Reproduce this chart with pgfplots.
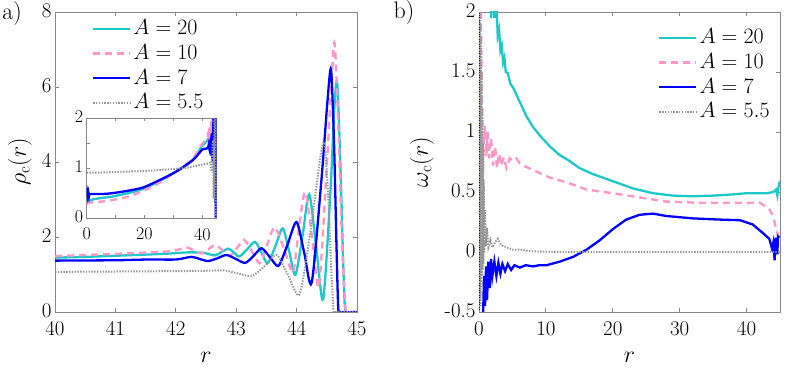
\RequirePackage{fix-cm}
\documentclass[border=0pt]{standalone}
\usepackage{fontspec}
\usepackage{pgfplots}
\pgfplotsset{compat=1.18}
\definecolor{cy}{RGB}{30,200,200}
\definecolor{pk}{RGB}{255,150,200}
\definecolor{bl}{RGB}{0,0,255}
\definecolor{gr}{RGB}{150,150,150}
\definecolor{axc}{RGB}{135,135,135}
\newcommand\tickfont{\fontsize{21}{24}\selectfont}
\newcommand\insetfont{\fontsize{18}{21}\selectfont}
\newcommand\labfont{\fontsize{24}{27}\selectfont}
\newcommand\legfont{\fontsize{22}{25}\selectfont}
\pgfplotsset{
  myaxis/.style={
    scale only axis,
    axis line style={axc, line width=0.8bp},
    every tick/.style={axc, line width=0.8bp},
    major tick length=4bp,
    tick align=inside,
    tick label style={font=\tickfont, black},
    xticklabel style={yshift=-6.5bp},
    yticklabel style={yshift=1.5bp},
    label style={font=\labfont},
    legend style={draw=none, fill=none, font=\legfont, anchor=north west,
      cells={anchor=west}, inner sep=0pt, outer sep=0pt, row sep=0pt,
      nodes={inner xsep=2bp, inner ysep=2.35bp, text height=16bp, text depth=4bp}},
    legend image code/.code={\draw[##1] (0bp,0bp) -- (37bp,0bp);},
  },
  pcy/.style={cy, line width=2.3bp},
  ppk/.style={pk, line width=2.4bp, dash pattern=on 7bp off 5bp},
  pbl/.style={bl, line width=2.3bp},
  pgr/.style={gr, line width=2bp, dash pattern=on 1.4bp off 1.4bp},
}
\begin{document}
\begin{tikzpicture}
\path[use as bounding box] (0bp,0bp) rectangle (789bp,371bp);
% ---------------- panel a ----------------
\begin{axis}[myaxis, at={(55bp,59bp)}, anchor=south west,
  width=302bp, height=300bp,
  xmin=40, xmax=45, ymin=0, ymax=8,
  xtick={40,41,42,43,44,45}, ytick={0,2,4,6,8},
  xlabel={$r$}, ylabel={$\rho_{\mathrm{c}}(r)$},
  xlabel style={at={(axis description cs:0.5,-0.15)}, anchor=center},
  ylabel style={at={(axis description cs:-0.116,0.5)}, anchor=center, rotate=0},
  legend style={at={(0.1225,0.985)}},
  smooth, tension=0.45]
\addplot[pcy] coordinates {(40,1.45) (40.5,1.47) (41,1.50) (41.5,1.53) (41.9,1.56) (42.2,1.59) (42.45,1.58) (42.65,1.51) (42.76,1.60) (42.87,1.69) (42.96,1.59) (43.05,1.48) (43.18,1.67) (43.31,1.87) (43.42,1.58) (43.52,1.30) (43.65,1.76) (43.77,2.23) (43.88,1.60) (43.98,0.99) (44.10,2.05) (44.21,3.14) (44.33,1.65) (44.44,0.34) (44.56,3.2) (44.62,5.3) (44.67,6.15) (44.72,4.2) (44.77,1.4) (44.80,0.1) (44.84,0) (45,0)};
\addlegendentry{$A=20$}
\addplot[ppk] coordinates {(40,1.49) (40.5,1.52) (41,1.55) (41.6,1.59) (41.95,1.63) (42.18,1.72) (42.30,1.64) (42.43,1.56) (42.54,1.67) (42.65,1.79) (42.78,1.64) (42.90,1.50) (43.02,1.72) (43.13,1.93) (43.26,1.62) (43.39,1.30) (43.51,1.78) (43.64,2.26) (43.80,1.65) (43.94,1.05) (44.03,2.1) (44.14,3.2) (44.26,1.95) (44.37,0.68) (44.50,3.9) (44.58,6.2) (44.63,7.16) (44.69,5.0) (44.75,2.0) (44.81,0.1) (44.85,0) (45,0)};
\addlegendentry{$A=10$}
\addplot[pbl] coordinates {(40,1.37) (41,1.38) (41.55,1.40) (42.0,1.40) (42.26,1.47) (42.40,1.41) (42.54,1.36) (42.70,1.44) (42.84,1.52) (43.0,1.41) (43.15,1.31) (43.29,1.50) (43.42,1.70) (43.56,1.46) (43.70,1.23) (43.85,1.80) (44.00,2.40) (44.13,1.55) (44.25,0.78) (44.41,3.5) (44.51,5.6) (44.57,6.47) (44.62,4.5) (44.66,1.8) (44.69,0.1) (44.73,0) (45,0)};
\addlegendentry{$A=7$}
\addplot[pgr] coordinates {(40,1.07) (41,1.08) (42,1.09) (42.5,1.10) (42.8,1.11) (43.05,1.02) (43.26,0.96) (43.47,1.22) (43.67,1.52) (43.86,0.98) (44.04,0.45) (44.18,1.6) (44.30,3.0) (44.40,4.2) (44.46,4.5) (44.52,3.2) (44.57,1.3) (44.61,0.1) (44.65,0) (45,0)};
\addlegendentry{$A=5.5$}
\end{axis}
% ---------------- inset ----------------
\begin{axis}[myaxis, at={(86.7bp,153bp)}, anchor=south west,
  width=130bp, height=100bp,
  axis background/.style={fill=white},
  major tick length=3bp,
  tick label style={font=\insetfont},
  xticklabel style={yshift=0bp},
  yticklabel style={yshift=0bp},
  xmin=0, xmax=45, ymin=0, ymax=2,
  xtick={0,10,20,30,40}, xticklabels={0,,20,,40},
  ytick={0,0.5,1,1.5,2}, yticklabels={0,,1,,2},
  smooth, tension=0.45]
\addplot[pcy] coordinates {(0,0.30) (0.3,0.38) (0.6,0.33) (2,0.37) (5,0.40) (8,0.42) (13.8,0.49) (19.5,0.58) (25.3,0.74) (31,0.93) (36.8,1.17) (40,1.45) (41,1.50) (41.9,1.56) (42.2,1.59) (42.65,1.51) (42.87,1.69) (43.05,1.48) (43.31,1.87) (43.52,1.30) (43.77,2.23) (43.98,0.99) (44.21,3.14) (44.44,0.34) (44.67,6.15) (44.80,0.1) (44.84,0) (45,0)};
\addplot[ppk] coordinates {(0,0.28) (1,0.31) (4,0.32) (8,0.35) (13.8,0.42) (19.5,0.54) (25.3,0.71) (31,0.93) (36.8,1.19) (40,1.49) (41,1.55) (41.95,1.63) (42.18,1.72) (42.43,1.56) (42.65,1.79) (42.90,1.50) (43.13,1.93) (43.39,1.30) (43.64,2.26) (43.94,1.05) (44.14,3.2) (44.37,0.68) (44.63,7.16) (44.81,0.1) (44.85,0) (45,0)};
\addplot[pbl] coordinates {(0,0.40) (0.2,0.52) (0.4,0.42) (0.6,0.51) (0.8,0.45) (1.2,0.48) (5,0.48) (8,0.49) (13.8,0.54) (19.5,0.61) (25.3,0.76) (31,0.93) (36.8,1.16) (40,1.37) (41,1.38) (42.0,1.40) (42.26,1.47) (42.54,1.36) (42.84,1.52) (43.15,1.31) (43.42,1.70) (43.70,1.23) (44.00,2.40) (44.25,0.78) (44.57,6.47) (44.69,0.1) (44.73,0) (45,0)};
\addplot[pgr] coordinates {(0,0.91) (5,0.91) (10,0.92) (15,0.93) (20,0.94) (25,0.96) (30,0.98) (35,1.01) (40,1.07) (42,1.09) (42.8,1.11) (43.26,0.96) (43.67,1.52) (44.04,0.45) (44.46,4.5) (44.61,0.1) (44.65,0) (45,0)};
\end{axis}
% ---------------- panel b ----------------
\begin{axis}[myaxis, at={(479bp,59bp)}, anchor=south west,
  width=301bp, height=300bp,
  xmin=0, xmax=45, ymin=-0.5, ymax=2,
  xtick={0,10,20,30,40},
  ytick={-0.5,0,0.5,1,1.5,2}, yticklabels={-0.5,0,0.5,1,1.5,2},
  xlabel={$r$}, ylabel={$\omega_{\mathrm{c}}(r)$},
  xlabel style={at={(axis description cs:0.5,-0.15)}, anchor=center},
  ylabel style={at={(axis description cs:-0.19,0.5)}, anchor=center},
  legend style={at={(0.595,0.955)}}]
\addplot[pcy] coordinates {(1.5,2.6) (1.8,1.95) (2.0,2.2) (2.3,1.95) (2.6,2.1) (2.8,1.8) (3.0,1.85) (3.2,1.68) (3.4,1.72) (3.6,1.58) (3.8,1.62) (4.0,1.50) (4.3,1.49) (4.7,1.40) (5.1,1.37) (6.1,1.25) (7.1,1.13) (8.1,1.04) (9.1,0.97) (10.6,0.88) (12,0.81) (13.5,0.76) (15,0.70) (17,0.65) (20,0.59) (23,0.53) (26,0.49) (29,0.47) (32,0.464) (35,0.47) (38,0.48) (40,0.49) (43,0.49) (44,0.50) (44.4,0.52) (44.6,0.47) (44.8,0.55) (45,0.59)};
\addlegendentry{$A=20$}
\addplot[ppk] coordinates {(0.2,2.1) (0.3,1.85) (0.4,1.4) (0.5,1.1) (0.6,0.65) (0.7,0.95) (0.9,1.05) (1.1,0.8) (1.3,1.0) (1.5,0.78) (1.8,0.95) (2.1,0.72) (2.4,0.88) (2.7,0.70) (3.0,0.82) (3.3,0.72) (3.7,0.79) (4.1,0.70) (4.6,0.78) (5.1,0.76) (5.6,0.78) (6.1,0.74) (7,0.71) (8.6,0.67) (10.6,0.62) (13.1,0.58) (16.1,0.52) (20,0.49) (23,0.464) (28,0.42) (33,0.41) (38,0.41) (42,0.41) (43.4,0.36) (44.0,0.29) (44.4,0.2) (44.7,0.14)};
\addlegendentry{$A=10$}
\addplot[pbl] coordinates {(0.6,-0.55) (0.75,-0.2) (0.9,-0.45) (1.05,-0.12) (1.2,-0.4) (1.4,-0.08) (1.6,-0.3) (1.8,-0.06) (2.0,-0.2) (2.3,-0.08) (2.6,-0.2) (2.9,-0.09) (3.2,-0.18) (3.5,-0.1) (3.9,-0.16) (4.3,-0.1) (4.8,-0.15) (5.3,-0.11) (6.1,-0.13) (7,-0.11) (8.1,-0.12) (9,-0.11) (10.1,-0.11) (12.1,-0.08) (14.1,-0.04) (16.1,0.02) (18.1,0.10) (20,0.19) (22,0.27) (24,0.31) (26,0.32) (28,0.30) (32,0.28) (36,0.27) (39,0.265) (40.9,0.23) (42.4,0.16) (43.4,0.11) (43.8,0.03) (44.0,0.08) (44.2,-0.07) (44.3,0.05) (44.4,0.12) (44.6,-0.02) (44.7,0.13) (44.9,0.12)};
\addlegendentry{$A=7$}
\addplot[pgr] coordinates {(0.05,-0.5) (0.1,1.9) (0.15,-0.4) (0.2,2.0) (0.25,-0.45) (0.3,1.8) (0.35,-0.3) (0.4,1.5) (0.45,-0.2) (0.5,1.2) (0.55,-0.15) (0.6,0.9) (0.65,-0.1) (0.7,0.6) (0.8,0.0) (0.9,0.35) (1.0,0.05) (1.2,0.2) (1.4,0.04) (1.7,0.1) (2.0,0.04) (2.4,0.08) (2.8,0.11) (3.2,0.07) (3.6,0.05) (4.1,0.04) (5,0.02) (6.1,0.02) (8.1,0.005) (12,0) (45,0)};
\addlegendentry{$A=5.5$}
\addplot[bl, line width=0.4bp, dotted, forget plot] coordinates {(0.1,-0.5) (0.1,2)};
\end{axis}
\node[font=\labfont] at (12bp,357bp) {a)};
\node[font=\labfont] at (404bp,358bp) {b)};
\end{tikzpicture}
\end{document}
